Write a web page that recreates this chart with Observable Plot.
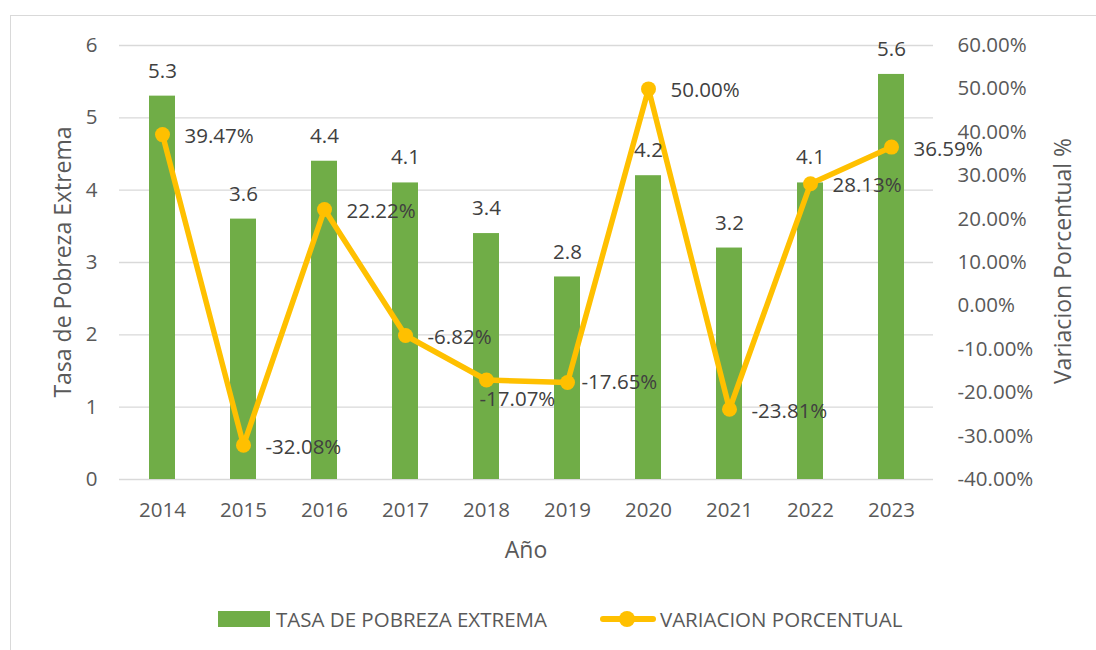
<!DOCTYPE html>
<html>
<head>
<meta charset="utf-8">
<script src="https://cdn.jsdelivr.net/npm/d3@7"></script>
<script src="https://cdn.jsdelivr.net/npm/@observablehq/plot@0.6"></script>
<style>
  html, body { margin: 0; padding: 0; background: #fff; overflow: hidden; width: 1096px; height: 650px; }
  #frame { position: absolute; left: 10px; top: 15px; width: 1200px; height: 800px; border: 1px solid #d9d9d9; box-sizing: border-box; }
  #chart { position: absolute; left: 0; top: 0; }
  .title { position: absolute; width: 400px; height: 30px; line-height: 30px; text-align: center; font-family: "Open Sans", sans-serif; font-size: 23px; color: #595959; white-space: nowrap; }
  #legend { position: absolute; top: 604px; left: 218px; height: 30px; display: flex; align-items: center; font-family: "Open Sans", sans-serif; font-size: 20.5px; color: #595959; white-space: nowrap; }
  .sw-bar { width: 52px; height: 16px; background: #70AD47; margin-right: 6px; }
  .sw-line { position: relative; width: 56px; height: 26px; margin-left: 53px; margin-right: 4px; }
  .sw-line .l { position: absolute; left: 0; right: 0; top: 10px; height: 6px; border-radius: 3px; background: #FFC000; }
  .sw-line .d { position: absolute; left: 19px; top: 5px; width: 16px; height: 16px; border-radius: 50%; background: #FFC000; }
</style>
</head>
<body>
<div id="frame"></div>
<div id="chart"></div>
<div id="tl" class="title" style="left:-138px; top:247px; transform: rotate(-90deg);"></div>
<div id="tr" class="title" style="left:862px; top:246px; transform: rotate(-90deg);"></div>
<div id="tx" class="title" style="left:326px; top:534px;"></div>
<div id="legend">
  <div class="sw-bar"></div><span id="lg1"></span>
  <div class="sw-line"><div class="l"></div><div class="d"></div></div><span id="lg2"></span>
</div>
<script>
// ---- data ----
const years = ["2014","2015","2016","2017","2018","2019","2020","2021","2022","2023"];
const tasa = [5.3, 3.6, 4.4, 4.1, 3.4, 2.8, 4.2, 3.2, 4.1, 5.6];
const variacion = [39.47, -32.08, 22.22, -6.82, -17.07, -17.65, 50.00, -23.81, 28.13, 36.59];
const leftTicks = [0, 1, 2, 3, 4, 5, 6];
const rightTicks = [-40, -30, -20, -10, 0, 10, 20, 30, 40, 50, 60];
const leftTitle = "Tasa de Pobreza Extrema";
const rightTitle = "Variacion Porcentual %";
const xTitle = "Año";
const seriesNames = ["TASA DE POBREZA EXTREMA", "VARIACION PORCENTUAL"];

document.getElementById("tl").textContent = leftTitle;
document.getElementById("tr").textContent = rightTitle;
document.getElementById("tx").textContent = xTitle;
document.getElementById("lg1").textContent = seriesNames[0];
document.getElementById("lg2").textContent = seriesNames[1];

// secondary axis (-40%..60%) mapped onto primary (0..6)
const toLeft = p => (p + 40) / 100 * 6;
const fromLeft = d => Math.round(d / 0.06) - 40;

// label nudges (Excel placed a couple of labels off the default spot)
const nudgeX = {"2018": -29, "2019": -8};
const nudgeY = {"2018": 17, "2019": -2};

const rows = years.map((y, i) => ({year: y, tasa: tasa[i], v: variacion[i], yl: toLeft(variacion[i])}));

const chart = Plot.plot({
  width: 1096,
  height: 580,
  marginTop: 45,
  marginBottom: 101,
  marginLeft: 119,
  marginRight: 163,
  style: {fontFamily: "Open Sans, sans-serif", fontSize: "20.5px", color: "#595959", background: "transparent"},
  x: {domain: years, type: "band", paddingInner: 0.68, paddingOuter: 0.34},
  y: {domain: [0, 6]},
  marks: [
    Plot.gridY(leftTicks, {stroke: "#d9d9d9", strokeOpacity: 1, strokeWidth: 1.3}),
    Plot.axisY(leftTicks, {anchor: "left", tickSize: 0, tickPadding: 22, label: null, tickFormat: d => String(d)}),
    Plot.axisY(rightTicks.map(toLeft), {anchor: "right", tickSize: 0, tickPadding: 24, label: null,
      tickFormat: d => fromLeft(d).toFixed(2) + "%"}),
    Plot.axisX({tickSize: 0, tickPadding: 23, label: null}),
    Plot.barY(rows, {x: "year", y: "tasa", fill: "#70AD47"}),
    Plot.line(rows, {x: "year", y: "yl", stroke: "#FFC000", strokeWidth: 5.5, strokeLinejoin: "round"}),
    Plot.dot(rows, {x: "year", y: "yl", r: 7.5, fill: "#FFC000"}),
    Plot.text(rows, {x: "year", y: "tasa", text: d => d.tasa.toFixed(1), dy: -25, fill: "#404040"}),
    ...rows.map(r => Plot.text([r], {x: "year", y: "yl", text: d => d.v.toFixed(2) + "%", textAnchor: "start",
      dx: 22 + (nudgeX[r.year] || 0), dy: 2 + (nudgeY[r.year] || 0), fill: "#404040"}))
  ]
});
document.getElementById("chart").append(chart);
</script>
</body>
</html>
